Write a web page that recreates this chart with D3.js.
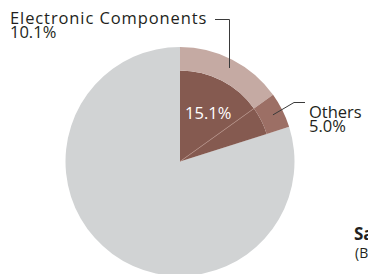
<!DOCTYPE html>
<meta charset="utf-8" />
<script src="https://d3js.org/d3.v7.min.js"></script>
<style>
  body { margin: 0; background: #fff; }
  text { font-family: 'Open Sans', sans-serif; }
</style>
<div id="chart"></div>
<script>
  // shares as drawn (percent of the whole pie)
  const innerShares = [15.1, 5.0];
  const restShare = 79.9;
  const ringNames = ['Electronic Components', 'Others'];
  const ringShares = [15.1, 5.0];
  const ringLabels = ['10.1%', '5.0%'];
  const centerLabel = '15.1%';

  const width = 368,
    height = 274;
  const cx = 180,
    cy = 161.5,
    rOuter = 114.5,
    rInner = 91;

  const svg = d3
    .select('#chart')
    .append('svg')
    .attr('width', width)
    .attr('height', height);

  const g = svg.append('g').attr('transform', `translate(${cx},${cy})`);

  const pie = d3.pie().sort(null).startAngle(0).endAngle(2 * Math.PI);

  // grey slice for the rest
  const whole = pie([d3.sum(innerShares), restShare]);
  g.append('path')
    .attr('d', d3.arc().innerRadius(0).outerRadius(rOuter)(whole[1]))
    .attr('fill', '#d1d3d4');

  // dark inner wedge
  const inner = pie([...innerShares, restShare]).slice(0, innerShares.length);
  g.selectAll('.inner')
    .data(inner)
    .join('path')
    .attr('class', 'inner')
    .attr('d', d3.arc().innerRadius(0).outerRadius(rInner))
    .attr('fill', '#855a50');

  // faint split line inside the dark wedge
  const splitA = inner[0].endAngle;
  g.append('line')
    .attr('x1', 0)
    .attr('y1', 0)
    .attr('x2', rInner * Math.sin(splitA))
    .attr('y2', -rInner * Math.cos(splitA))
    .attr('stroke', '#b89288')
    .attr('stroke-width', 0.7);

  // outer ring
  const ringColors = ['#c5aaa3', '#9c6f65'];
  const ring = pie([...ringShares, restShare]).slice(0, ringShares.length);
  const ringArc = d3.arc().innerRadius(rInner).outerRadius(rOuter);
  g.selectAll('.ring')
    .data(ring)
    .join('path')
    .attr('class', 'ring')
    .attr('d', ringArc)
    .attr('fill', (d, i) => ringColors[i]);

  // centre label
  const labelArc = d3.arc().innerRadius(rInner * 0.55).outerRadius(rInner * 0.95);
  const c0 = labelArc.centroid(inner[0]);
  g.append('text')
    .attr('x', c0[0] - 3)
    .attr('y', c0[1] + 18)
    .attr('text-anchor', 'middle')
    .attr('fill', '#fff')
    .attr('font-size', 16.5)
    .text(centerLabel);

  // leader lines
  const pt = (d, r) => {
    const a = (d.startAngle + d.endAngle) / 2;
    return [cx + r * Math.sin(a), cy - r * Math.cos(a)];
  };
  const p0 = pt(ring[0], 104);
  const p1 = pt(ring[1], 104);

  svg
    .append('path')
    .attr('d', `M${p0[0] + 2},${p0[1] - 1}V19.5H215`)
    .attr('fill', 'none')
    .attr('stroke', '#3a3a3a')
    .attr('stroke-width', 1);

  svg
    .append('path')
    .attr('d', `M${p1[0]},${p1[1]}L294,102.5H305`)
    .attr('fill', 'none')
    .attr('stroke', '#3a3a3a')
    .attr('stroke-width', 1);

  // labels
  const lab0 = svg.append('text').attr('x', 10).attr('y', 23.5).attr('font-size', 16.5).attr('fill', '#231f20');
  lab0.append('tspan').attr('x', 10).attr('letter-spacing', 0.9).text(ringNames[0]);
  lab0.append('tspan').attr('x', 10).attr('dy', 14.5).text(ringLabels[0]);

  const lab1 = svg.append('text').attr('x', 309).attr('y', 117.5).attr('font-size', 16.5).attr('fill', '#231f20');
  lab1.append('tspan').attr('x', 309).text(ringNames[1]);
  lab1.append('tspan').attr('x', 309).attr('dy', 14.5).text(ringLabels[1]);

  // cut-off neighbouring title at right edge
  svg.append('text')
    .attr('x', 354)
    .attr('y', 240)
    .attr('font-size', 17)
    .attr('font-weight', 'bold')
    .attr('fill', '#231f20')
    .text('Sales');
  svg.append('text')
    .attr('x', 355)
    .attr('y', 258)
    .attr('font-size', 14)
    .attr('fill', '#231f20')
    .text('(B');
  svg.append('text')
    .attr('x', 355)
    .attr('y', 284)
    .attr('font-size', 13)
    .attr('fill', '#231f20')
    .text('1');
</script>
